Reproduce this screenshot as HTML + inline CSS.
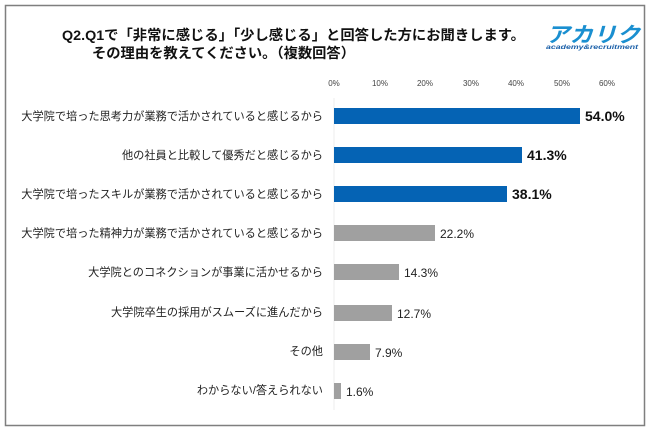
<!DOCTYPE html>
<html><head><meta charset="utf-8"><style>
body{margin:0;background:#fff;}
svg{display:block;}
text{font-family:"Liberation Sans","Noto Sans CJK JP",sans-serif;}
</style></head><body>
<svg width="650" height="433" viewBox="0 0 650 433" xmlns="http://www.w3.org/2000/svg">
<rect x="0" y="0" width="650" height="433" fill="#fff"/>
<rect x="5.5" y="5.5" width="639" height="420" fill="#fff" stroke="#7f7f7f" stroke-width="1.5"/>
<text x="62" y="40" font-size="14" font-weight="bold" fill="#111" textLength="463" lengthAdjust="spacingAndGlyphs">Q2.Q1で「非常に感じる」「少し感じる」と回答した方にお聞きします。</text>
<text x="92" y="58" font-size="14" font-weight="bold" fill="#111" textLength="263" lengthAdjust="spacingAndGlyphs">その理由を教えてください。（複数回答）</text>
<text x="546" y="42" font-size="21" font-weight="bold" fill="#1a8fd0" font-style="italic" textLength="94" lengthAdjust="spacingAndGlyphs">アカリク</text>
<text x="546" y="49" font-size="6" font-weight="bold" fill="#1a5fa8" font-style="italic" textLength="92" lengthAdjust="spacingAndGlyphs">academy&amp;recruitment</text>
<g font-size="8" fill="#444" text-anchor="middle">
<text x="334" y="86">0%</text><text x="380" y="86">10%</text><text x="425" y="86">20%</text><text x="471" y="86">30%</text><text x="516" y="86">40%</text><text x="562" y="86">50%</text><text x="607" y="86">60%</text>
</g>
<line x1="334" y1="98" x2="334" y2="410" stroke="#eee" stroke-width="1"/>
<g font-size="11.2" fill="#222" text-anchor="end">
<text x="323" y="120">大学院で培った思考力が業務で活かされていると感じるから</text>
<text x="323" y="159">他の社員と比較して優秀だと感じるから</text>
<text x="323" y="198">大学院で培ったスキルが業務で活かされていると感じるから</text>
<text x="323" y="237">大学院で培った精神力が業務で活かされていると感じるから</text>
<text x="323" y="276">大学院とのコネクションが事業に活かせるから</text>
<text x="323" y="316">大学院卒生の採用がスムーズに進んだから</text>
<text x="323" y="355">その他</text>
<text x="323" y="394">わからない/答えられない</text>
</g>
<g>
<rect x="334" y="108" width="246" height="16" fill="#0563b4"/>
<rect x="334" y="147" width="188" height="16" fill="#0563b4"/>
<rect x="334" y="186" width="173" height="16" fill="#0563b4"/>
<rect x="334" y="225" width="101" height="16" fill="#a0a0a0"/>
<rect x="334" y="264" width="65" height="16" fill="#a0a0a0"/>
<rect x="334" y="305" width="58" height="16" fill="#a0a0a0"/>
<rect x="334" y="344" width="36" height="16" fill="#a0a0a0"/>
<rect x="334" y="383" width="7" height="16" fill="#a0a0a0"/>
</g>
<g font-size="14" font-weight="bold" fill="#111">
<text x="585" y="121">54.0%</text>
<text x="527" y="160">41.3%</text>
<text x="512" y="199">38.1%</text>
</g>
<g font-size="12" fill="#222">
<text x="440" y="238">22.2%</text>
<text x="404" y="277">14.3%</text>
<text x="397" y="318">12.7%</text>
<text x="375" y="357">7.9%</text>
<text x="346" y="396">1.6%</text>
</g>
</svg>
</body></html>
